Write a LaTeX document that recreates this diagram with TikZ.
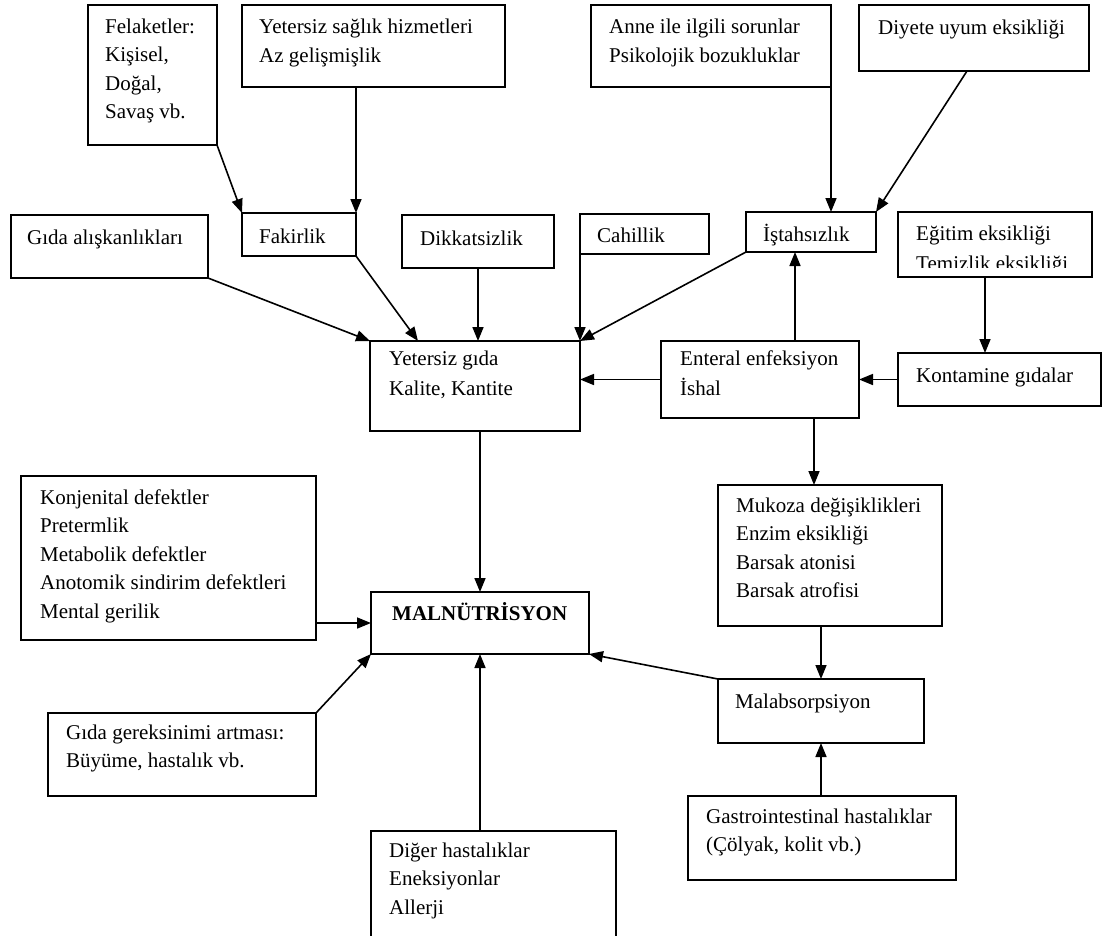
\documentclass[tikz,border=0pt]{standalone}
\usepackage{fontspec}
\setmainfont{Liberation Serif}
\usetikzlibrary{arrows.meta,calc}
\newcommand{\tx}[1]{\begin{tabular}[t]{@{}l@{}}#1\end{tabular}}
\tikzset{
  box/.style={draw, line width=1.6pt, inner sep=0pt, outer sep=0pt, anchor=north west},
  txt/.style={anchor=base west, inner sep=0pt, font=\fontsize{21}{28.5}\selectfont},
  arr/.style={line width=1.6pt, -{Triangle[length=14pt,width=11pt]}}
}
\newcommand{\boxat}[5]{\node[box, minimum width={(#4-#2)*1pt}, minimum height={(#5-#3)*1pt}] (#1) at (#2,#3) {};}
\begin{document}
\begin{tikzpicture}[x=1pt,y=-1pt]
\useasboundingbox (0,0) rectangle (1103,935);
\clip (0,0) rectangle (1103,935);
\fill[white] (0,0) rectangle (1103,935);
% boxes
\boxat{fel}{88}{5}{217}{145}
\boxat{ysh}{242}{5}{505}{87}
\boxat{fak}{242}{213}{356}{256}
\boxat{gal}{11}{215}{208}{278}
\boxat{dik}{402}{215}{554}{268}
\boxat{anne}{591}{5}{831}{87}
\boxat{diy}{859}{5}{1089}{71}
\boxat{cah}{580}{214}{709}{254}
\boxat{ist}{746}{212}{876}{252}
\boxat{egi}{898}{212}{1092}{277}
\boxat{yg}{370}{341}{580}{431}
\boxat{ent}{661}{341}{859}{418}
\boxat{kon}{898}{353}{1101}{406}
\boxat{muk}{718}{485}{942}{626}
\boxat{kjn}{21}{476}{316}{640}
\boxat{mal}{371}{592}{589}{654}
\boxat{ggr}{48}{713}{316}{796}
\boxat{mab}{718}{679}{924}{743}
\boxat{gas}{688}{796}{956}{880}
\boxat{dig}{371}{831}{616}{945}
% texts
\node[txt] (fel-t) at ([xshift=17pt,yshift=-28pt]fel.north west) {\tx{Felaketler:\\Kişisel,\\Doğal,\\Savaş vb.}};
\node[txt] (ysh-t) at ([xshift=17pt,yshift=-28pt]ysh.north west) {\tx{Yetersiz sağlık hizmetleri\\[1pt]Az gelişmişlik}};
\node[txt] (fak-t) at ([xshift=17pt,yshift=-30pt]fak.north west) {Fakirlik};
\node[txt] (gal-t) at ([xshift=16pt,yshift=-29pt]gal.north west) {Gıda alışkanlıkları};
\node[txt] (dik-t) at ([xshift=18pt,yshift=-30pt]dik.north west) {Dikkatsizlik};
\node[txt] (anne-t) at ([xshift=18pt,yshift=-28pt]anne.north west) {\tx{Anne ile ilgili sorunlar\\[1pt]Psikolojik bozukluklar}};
\node[txt] (diy-t) at ([xshift=19pt,yshift=-29pt]diy.north west) {Diyete uyum eksikliği};
\node[txt] (cah-t) at ([xshift=17pt,yshift=-28pt]cah.north west) {Cahillik};
\node[txt] (ist-t) at ([xshift=17pt,yshift=-29pt]ist.north west) {İştahsızlık};
\begin{scope}
\clip (egi.north west) rectangle ([yshift=10pt]egi.south east);
\node[txt] (egi-t) at ([xshift=18pt,yshift=-28pt]egi.north west) {\tx{Eğitim eksikliği\\[1.5pt]Temizlik eksikliği}};
\end{scope}
\node[txt] (yg-t) at ([xshift=19pt,yshift=-24pt]yg.north west) {\tx{Yetersiz gıda\\[1.5pt]Kalite, Kantite}};
\node[txt] (ent-t) at ([xshift=19pt,yshift=-24pt]ent.north west) {\tx{Enteral enfeksiyon\\[1.5pt]İshal}};
\node[txt] (kon-t) at ([xshift=18pt,yshift=-29pt]kon.north west) {Kontamine gıdalar};
\node[txt] (muk-t) at ([xshift=18pt,yshift=-27pt]muk.north west) {\tx{Mukoza değişiklikleri\\Enzim eksikliği\\Barsak atonisi\\Barsak atrofisi}};
\node[txt] (kjn-t) at ([xshift=19pt,yshift=-28pt]kjn.north west) {\tx{Konjenital defektler\\Pretermlik\\Metabolik defektler\\Anotomik sindirim defektleri\\Mental gerilik}};
\node[txt, font=\fontsize{21}{28.5}\selectfont\bfseries] (mal-t) at ([xshift=21pt,yshift=-28pt]mal.north west) {MALNÜTRİSYON};
\node[txt] (ggr-t) at ([xshift=18pt,yshift=-26pt]ggr.north west) {\tx{Gıda gereksinimi artması:\\Büyüme, hastalık vb.}};
\node[txt] (mab-t) at ([xshift=17pt,yshift=-29pt]mab.north west) {Malabsorpsiyon};
\node[txt] (gas-t) at ([xshift=18pt,yshift=-27pt]gas.north west) {\tx{Gastrointestinal hastalıklar\\(Çölyak, kolit vb.)}};
\node[txt] (dig-t) at ([xshift=18pt,yshift=-26pt]dig.north west) {\tx{Diğer hastalıklar\\Eneksiyonlar\\Allerji}};
% helper coordinates
\coordinate (p10) at ([xshift=-16pt]ist.south);
\coordinate (p11) at ([xshift=-10pt]egi.south);
\coordinate (p14) at ([xshift=54pt]ent.south);
\coordinate (p9) at ([xshift=-7pt]diy.south);
\coordinate (p4) at ([xshift=48pt]yg.north west);
% arrows
\draw[arr] (fel.south east) -- (fak.north west);
\draw[arr] (ysh.south -| fak.north east) -- (fak.north east);
\draw[arr] (gal.south east) -- (yg.north west);
\draw[arr] (fak.south east) -- (p4);
\draw[arr] (dik.south) -- (dik.south |- yg.north);
\draw[arr] (cah.south west) -- (yg.north east);
\draw[arr] (ist.south west) -- (yg.north east);
\draw[arr] (anne.south east) -- (anne.south east |- ist.north);
\draw[arr] (p9) -- (ist.north east);
\draw[arr] (p10 |- ent.north) -- (p10);
\draw[arr] (p11) -- (p11 |- kon.north);
\draw[arr] (kon.west) -- (kon.west -| ent.east);
\draw[arr] (ent.west) -- (ent.west -| yg.east);
\draw[arr] (p14) -- (p14 |- muk.north);
\draw[arr] (mal.north |- yg.south) -- (mal.north);
\draw[arr] (mal.west -| kjn.east) -- (mal.west);
\draw[arr] (ggr.north east) -- (mal.south west);
\draw[arr] (mal.south |- dig.north) -- (mal.south);
\draw[arr] (mab.north west) -- (mal.south east);
\draw[arr] (mab.north |- muk.south) -- (mab.north);
\draw[arr] (mab.south |- gas.north) -- (mab.south);
\end{tikzpicture}
\end{document}
